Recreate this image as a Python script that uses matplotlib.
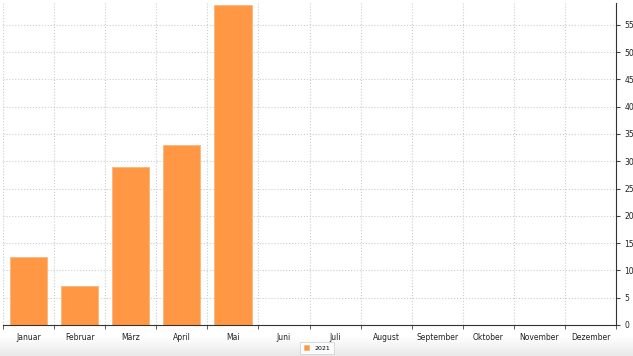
import matplotlib
matplotlib.use("Agg")
import matplotlib.pyplot as plt
import numpy as np

MONTHS = ["Januar", "Februar", "März", "April", "Mai", "Juni", "Juli",
          "August", "September", "Oktober", "November", "Dezember"]
VALUES_2021 = [12.5, 7.2, 29.0, 33.0, 58.7, 0, 0, 0, 0, 0, 0, 0]
Y_TICKS = list(range(0, 60, 5))

W, H = 633, 356
fig = plt.figure(figsize=(W / 100, H / 100), dpi=100)

# light grey gradient band along the bottom edge
bg = fig.add_axes([0, 0, 1, 20 / H], zorder=0)
grad = np.linspace(0.91, 1.0, 64).reshape(-1, 1)
bg.imshow(grad, cmap="gray", vmin=0, vmax=1, aspect="auto", origin="lower",
          extent=[0, 1, 0, 1])
bg.axis("off")

ax = fig.add_axes([3 / W, 31 / H, 613 / W, 322 / H], zorder=1)
ax.patch.set_alpha(0)

x = np.arange(len(MONTHS))
ax.bar(x, VALUES_2021, width=0.73, color="#ff9744", edgecolor="#f7b878",
       linewidth=0.6, label="2021", zorder=2)

ax.set_xlim(-0.5, len(MONTHS) - 0.5)
ax.set_ylim(0, 59)

ax.set_xticks(x)
ax.set_xticklabels(MONTHS, fontsize=5.5, color="#222222")
ax.set_xticks(np.arange(-0.5, len(MONTHS)), minor=True)
ax.tick_params(axis="x", which="major", length=0, pad=6)
ax.tick_params(axis="x", which="minor", length=3, color="#444444")

ax.yaxis.tick_right()
ax.set_yticks(Y_TICKS)
ax.set_yticklabels([str(v) for v in Y_TICKS], fontsize=5.5, color="#222222")
ax.tick_params(axis="y", length=3, pad=3, color="#444444")

ax.grid(True, axis="y", which="major", linestyle=":", color="#cccccc",
        linewidth=0.8, zorder=0)
ax.grid(True, axis="x", which="minor", linestyle=":", color="#cccccc",
        linewidth=0.8, zorder=0)

for side in ("top", "left"):
    ax.spines[side].set_visible(False)
ax.spines["bottom"].set_color("#333333")
ax.spines["right"].set_color("#333333")
ax.spines["bottom"].set_linewidth(0.8)
ax.spines["right"].set_linewidth(0.8)

leg = fig.legend(loc="center", bbox_to_anchor=(317 / W, 8 / H), fontsize=4.5,
                 frameon=True, fancybox=False, handlelength=0.8,
                 handleheight=0.8, borderpad=0.5, handletextpad=1.0)
leg.get_frame().set_edgecolor("#cccccc")
leg.get_frame().set_linewidth(0.6)

fig.savefig("out.png", dpi=100)
